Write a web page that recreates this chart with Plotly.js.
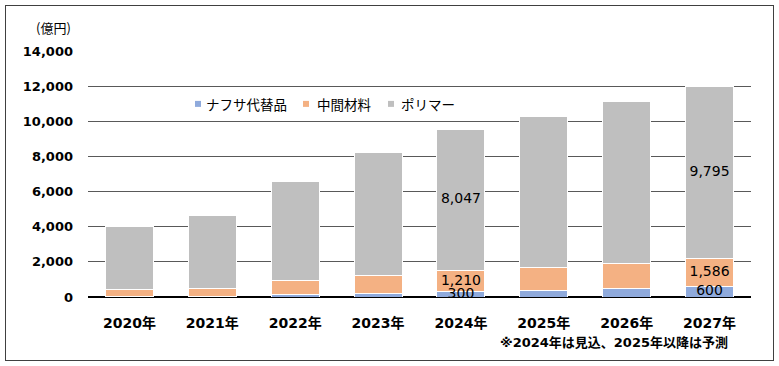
<!DOCTYPE html>
<html>
<head>
<meta charset="utf-8">
<script src="https://cdn.plot.ly/plotly-3.0.1.min.js"></script>
<style>
html,body{margin:0;padding:0;background:#fff;}
#wrap{position:relative;width:779px;height:366px;}
#chart{width:779px;height:366px;}
#frame{position:absolute;left:5px;top:5px;width:767px;height:354px;border:1px solid #404040;pointer-events:none;}
</style>
</head>
<body>
<div id="wrap"><div id="chart"></div><div id="frame"></div></div>
<script>
const categories = ['2020年','2021年','2022年','2023年','2024年','2025年','2026年','2027年'];
const naphthaAlt = [5, 10, 140, 200, 300, 370, 470, 600];
const intermediate = [415, 490, 800, 1050, 1210, 1330, 1450, 1586];
const polymer = [3590, 4160, 5620, 6950, 8047, 8600, 9180, 9795];
const naphthaLabels = ['', '', '', '', '300', '', '', '600'];
const intermediateLabels = ['', '', '', '', '1,210', '', '', '1,586'];
const polymerLabels = ['', '', '', '', '8,047', '', '', '9,795'];
const seriesNames = ['ナフサ代替品', '中間材料', 'ポリマー'];
const colors = ['#8FAADC', '#F4B183', '#BFBFBF'];

const FONT = 'DejaVu Sans, "Noto Sans CJK JP", sans-serif';
const JFONT = '"Noto Sans CJK JP", DejaVu Sans, sans-serif';

// plot area in pixels (for converting layout decorations to paper coords)
const L = 88, R = 751, T = 51, B = 297.5;
const px = v => (v - L) / (R - L);
const py = v => (B - v) / (B - T);

function bar(name, vals, color){
  return {
    type:'bar', name:name, x:categories, y:vals,
    marker:{color:color, line:{color:'#ffffff', width:1}},
    hoverinfo:'skip', showlegend:false
  };
}
const data = [
  bar(seriesNames[0], naphthaAlt, colors[0]),
  bar(seriesNames[1], intermediate, colors[1]),
  bar(seriesNames[2], polymer, colors[2])
];

// value labels at segment centres, computed from the data
const lx = [], ly = [], lt = [];
categories.forEach((c, i) => {
  const segs = [
    [0, naphthaAlt[i], naphthaLabels[i]],
    [naphthaAlt[i], intermediate[i], intermediateLabels[i]],
    [naphthaAlt[i] + intermediate[i], polymer[i], polymerLabels[i]]
  ];
  segs.forEach(([base, v, t]) => {
    if (t) { lx.push(c); ly.push(base + v / 2); lt.push(t); }
  });
});
data.push({
  type:'scatter', mode:'text', x:lx, y:ly, text:lt,
  textposition:'middle center', cliponaxis:false,
  textfont:{family:FONT, size:14, color:'#000'},
  hoverinfo:'skip', showlegend:false
});

// manual legend
const legendItems = [
  {sq:[195, 201], tx:204},
  {sq:[303, 309], tx:315},
  {sq:[388, 394], tx:399}
];
const legY = 104;
const shapes = legendItems.map((it, i) => ({
  type:'rect', xref:'paper', yref:'paper',
  x0:px(it.sq[0]), x1:px(it.sq[1]), y0:py(legY + 3), y1:py(legY - 3),
  fillcolor:colors[i], line:{width:0}
}));
const annotations = legendItems.map((it, i) => ({
  text:seriesNames[i], xref:'paper', yref:'paper', x:px(it.tx), y:py(legY),
  xanchor:'left', yanchor:'middle', showarrow:false,
  font:{family:JFONT, size:13.5, color:'#000'}
}));
annotations.push(
  {text:'(億円)', xref:'paper', yref:'paper', x:px(53), y:py(27), showarrow:false,
   xanchor:'center', yanchor:'middle', font:{family:JFONT, size:13, color:'#000'}},
  {text:'※2024年は見込、2025年以降は予測', xref:'paper', yref:'paper', x:px(614), y:py(343),
   showarrow:false, xanchor:'center', yanchor:'middle',
   font:{family:FONT, size:13, weight:'bold', color:'#000'}}
);

const layout = {
  width:779, height:366,
  margin:{l:L, r:779 - R, t:T, b:366 - B, pad:0},
  paper_bgcolor:'#fff', plot_bgcolor:'#fff',
  barmode:'stack', bargap:0.42,
  font:{family:FONT, color:'#000'},
  showlegend:false,
  xaxis:{
    showgrid:false, ticks:'', showline:false, zeroline:false,
    tickfont:{family:FONT, size:14, weight:'bold', color:'#000'},
    ticklabelstandoff:16
  },
  yaxis:{
    range:[0,14000], dtick:2000, tickformat:',d',
    showgrid:true, gridcolor:'#595959', gridwidth:1,
    zeroline:true, zerolinecolor:'#000', zerolinewidth:1.5,
    showline:false, ticks:'',
    tickfont:{family:FONT, size:13, weight:'bold', color:'#000'},
    ticklabelstandoff:14
  },
  shapes:shapes,
  annotations:annotations
};
Plotly.newPlot('chart', data, layout, {displayModeBar:false, staticPlot:true});
</script>
</body>
</html>
